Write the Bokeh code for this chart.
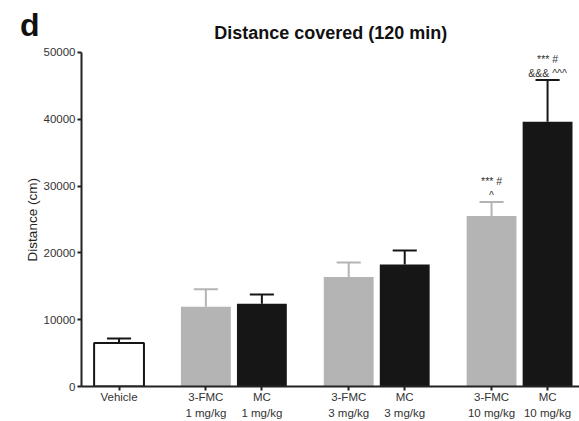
from bokeh.plotting import figure
from bokeh.models import Range1d, FixedTicker, ColumnDataSource, LinearAxis
from bokeh.core.properties import value
from bokeh.embed import file_html
from bokeh.resources import INLINE

# ---- data ----
groups = ["Vehicle", "3-FMC\n1 mg/kg", "MC\n1 mg/kg", "3-FMC\n3 mg/kg", "MC\n3 mg/kg",
          "3-FMC\n10 mg/kg", "MC\n10 mg/kg"]
positions = [0, 1.55, 2.55, 4.1, 5.1, 6.65, 7.65]
means = [6500, 11950, 12400, 16400, 18250, 25500, 39600]
sems = [700, 2600, 1350, 2150, 2100, 2100, 6250]
fills = ["#ffffff", "#b4b4b4", "#161616", "#b4b4b4", "#161616", "#b4b4b4", "#161616"]
lines = ["#161616", None, None, None, None, None, None]
err_colors = ["#161616", "#b4b4b4", "#161616", "#b4b4b4", "#161616", "#b4b4b4", "#161616"]
y_ticks = [0, 10000, 20000, 30000, 40000, 50000]
y_max = 50000

annot_idx = [5, 6]
annot_line1 = ["^", "&&& ^^^"]
annot_line2 = ["*** #", "*** #"]

title_text = "Distance covered (120 min)"
panel_letter = "d"
y_label = "Distance (cm)"

FONT = "Liberation Sans"

# frame spans the full height above the x axis; the value axis is bounded to 0..50000
Y_TOP = 57761
p = figure(width=579, height=421, output_backend="svg", toolbar_location=None,
           x_range=Range1d(-0.67, 8.22), y_range=Range1d(0, Y_TOP),
           y_axis_location=None,
           min_border_left=81, min_border_top=0, min_border_bottom=34, min_border_right=0)
p.outline_line_color = None
p.xgrid.visible = False

tops = [m + s for m, s in zip(means, sems)]
src = ColumnDataSource(dict(x=positions, m=means, t=tops, fill=fills,
                            line=[l if l else f for l, f in zip(lines, fills)],
                            lw=[2 if l else 0 for l in lines],
                            ec=err_colors,
                            cl=[x - 0.215 for x in positions], cr=[x + 0.215 for x in positions]))

p.segment(x0="x", y0="m", x1="x", y1="t", source=src, line_color="ec", line_width=2)
p.segment(x0="cl", y0="t", x1="cr", y1="t", source=src, line_color="ec", line_width=2)
p.vbar(x="x", top="m", bottom=0, width=0.89, source=src, fill_color="fill",
       line_color="line", line_width="lw")

ax = [positions[i] for i in annot_idx]
at = [tops[i] for i in annot_idx]
p.text(x=ax, y=at, text=annot_line1, text_align="center", text_baseline="middle",
       y_offset=-7, text_font=value(FONT), text_font_size="10.5px", text_color="#333333")
p.text(x=ax, y=at, text=annot_line2, text_align="center", text_baseline="middle",
       y_offset=-21, text_font=value(FONT), text_font_size="10.5px", text_color="#333333")

# chart title (inside the tall frame, above the bounded axis)
p.text(x=[3.78], y=[y_max], text=[title_text], text_align="center", text_baseline="alphabetic",
       y_offset=-19, text_font=value(FONT), text_font_size="18px", text_font_style="bold",
       text_color="#111111")

# main value axis (nearest the frame)
yax = LinearAxis(bounds=(0, y_max), ticker=FixedTicker(ticks=y_ticks))
yax.minor_tick_line_color = None
yax.major_tick_out = 4
yax.major_tick_in = 0
yax.axis_line_width = 2
yax.major_tick_line_width = 2
yax.axis_line_color = "#222222"
yax.major_tick_line_color = "#222222"
yax.major_label_text_font = FONT
yax.major_label_text_font_size = "11.5px"
yax.major_label_text_color = "#333333"
yax.major_label_standoff = 2
p.add_layout(yax, "left")

# outer axis: carries the panel letter and the axis title
letter_tick = 54029
lax = LinearAxis(ticker=FixedTicker(ticks=[letter_tick]))
lax.major_label_overrides = {letter_tick: panel_letter}
lax.axis_line_color = None
lax.major_tick_line_color = None
lax.minor_tick_line_color = None
lax.major_tick_out = 0
lax.major_tick_in = 0
lax.major_label_standoff = 1
lax.major_label_text_font = FONT
lax.major_label_text_font_size = "32px"
lax.major_label_text_font_style = "bold"
lax.major_label_text_color = "#111111"
# padding after the text keeps the visible label centred on the 0..50000 span
lax.axis_label = y_label + "\u00a0" * 14
lax.axis_label_text_font = FONT
lax.axis_label_text_font_style = "normal"
lax.axis_label_text_font_size = "13.5px"
lax.axis_label_text_color = "#222222"
lax.axis_label_standoff = -23
p.add_layout(lax, "left")

p.ygrid.visible = False

p.xaxis.ticker = FixedTicker(ticks=positions)
p.xaxis.major_label_overrides = {pos: g for pos, g in zip(positions, groups)}
p.xaxis.minor_tick_line_color = None
p.xaxis.major_tick_out = 4
p.xaxis.major_tick_in = 0
p.xaxis.axis_line_width = 2
p.xaxis.major_tick_line_width = 2
p.xaxis.axis_line_color = "#222222"
p.xaxis.major_tick_line_color = "#222222"
p.xaxis.major_label_text_font = FONT
p.xaxis.major_label_text_font_size = "11.5px"
p.xaxis.major_label_text_line_height = 1.35
p.xaxis.major_label_text_color = "#333333"
p.xaxis.major_label_standoff = 0

open("out.html", "w").write(file_html(p, INLINE))
